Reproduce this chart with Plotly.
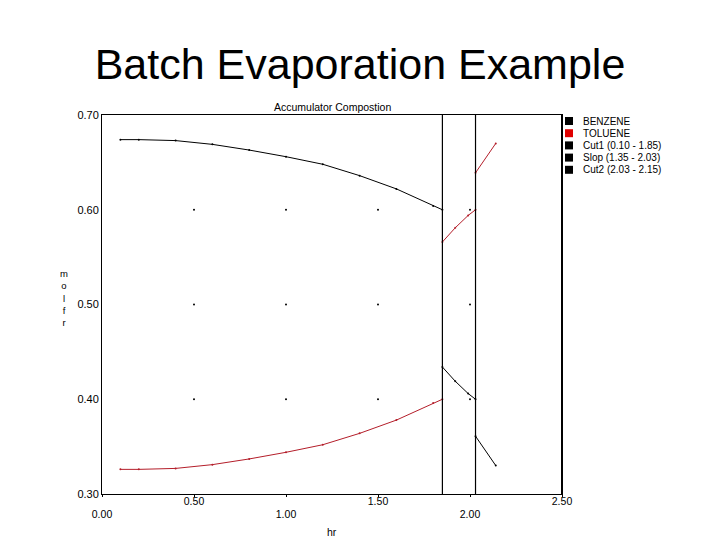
import plotly.graph_objects as go

# Accumulator composition (mole fraction) per cut
time_cut1 = [0.10, 0.20, 0.40, 0.60, 0.80, 1.00, 1.20, 1.40, 1.60, 1.80, 1.85]
benzene_cut1 = [0.674, 0.674, 0.673, 0.669, 0.663, 0.656, 0.648, 0.636, 0.622, 0.604, 0.600]
toluene_cut1 = [0.326, 0.326, 0.327, 0.331, 0.337, 0.344, 0.352, 0.364, 0.378, 0.396, 0.400]

time_slop = [1.85, 1.92, 1.99, 2.03]
benzene_slop = [0.434, 0.419, 0.406, 0.400]
toluene_slop = [0.566, 0.581, 0.594, 0.600]

time_cut2 = [2.03, 2.14]
benzene_cut2 = [0.361, 0.330]
toluene_cut2 = [0.639, 0.670]

cut_bounds = [1.85, 2.03]

grid_x = [0.5, 1.0, 1.5, 2.0]
grid_y = [0.4, 0.5, 0.6]

x_ticks = [0.0, 0.5, 1.0, 1.5, 2.0, 2.5]
y_ticks = [0.30, 0.40, 0.50, 0.60, 0.70]

legend_labels = ["BENZENE", "TOLUENE", "Cut1 (0.10 - 1.85)", "Slop (1.35 - 2.03)", "Cut2 (2.03 - 2.15)"]
legend_colors = ["#000000", "#e00000", "#000000", "#000000", "#000000"]

FONT = "Liberation Sans, Arial, sans-serif"
RED_LINE = "#b41e2a"

# plot box in pixels (720x540 page)
L, R, T, B = 102, 562, 115, 494
PW, PH = R - L, B - T


def px_x(p):
    return (p - L) / PW


def px_y(p):
    return (B - p) / PH


def join(segments):
    xs, ys = [], []
    for sx, sy in segments:
        xs.extend(sx + [None])
        ys.extend(sy + [None])
    return xs, ys


fig = go.Figure()

# faint grid dots (also anchors the second x axis used for the lower tick row)
gx = [x for x in grid_x for _ in grid_y]
gy = [y for _ in grid_x for y in grid_y]
fig.add_trace(go.Scatter(x=gx, y=gy, mode='markers', xaxis='x2',
                         marker=dict(size=2, color='#000000'),
                         hoverinfo='skip', showlegend=False))

bx, by = join([(time_cut1, benzene_cut1), (time_slop, benzene_slop), (time_cut2, benzene_cut2)])
tx, ty = join([(time_cut1, toluene_cut1), (time_slop, toluene_slop), (time_cut2, toluene_cut2)])

fig.add_trace(go.Scatter(x=bx, y=by, mode='lines+markers', name='BENZENE',
                         line=dict(color='#000000', width=1),
                         marker=dict(size=2, color='#000000'),
                         connectgaps=False, showlegend=False))
fig.add_trace(go.Scatter(x=tx, y=ty, mode='lines+markers', name='TOLUENE',
                         line=dict(color=RED_LINE, width=1),
                         marker=dict(size=2, color=RED_LINE),
                         connectgaps=False, showlegend=False))

# cut boundaries
for c in cut_bounds:
    fig.add_shape(type='line', x0=c, x1=c, xref='x', y0=0, y1=1, yref='paper',
                  line=dict(color='#000000', width=1.2))

# right edge of the frame is drawn heavier
fig.add_shape(type='line', x0=1, x1=1, xref='paper', y0=0, y1=1, yref='paper',
              line=dict(color='#000000', width=2))

# hand made legend
for i, (lab, col) in enumerate(zip(legend_labels, legend_colors)):
    cy = 121 + 12.2 * i
    fig.add_shape(type='rect', xref='paper', yref='paper',
                  x0=px_x(565), x1=px_x(573), y0=px_y(cy + 4), y1=px_y(cy - 4),
                  fillcolor=col, line=dict(width=0))
    fig.add_annotation(text=lab, xref='paper', yref='paper', x=px_x(581), y=px_y(cy),
                       xanchor='left', yanchor='middle', showarrow=False,
                       font=dict(size=10, color='#000000', family=FONT))

# chart subtitle
fig.add_annotation(text='Accumulator Compostion', xref='paper', yref='paper',
                   x=0.5, y=1, xanchor='center', yanchor='bottom', showarrow=False,
                   font=dict(size=10.5, color='#000000', family=FONT))

# y axis title, one letter per line
fig.add_annotation(text='m<br>o<br>l<br>f<br>r', xref='paper', yref='paper',
                   x=px_x(64), y=px_y(298), xanchor='center', yanchor='middle',
                   showarrow=False, font=dict(size=9.5, color='#000000', family=FONT))

# x axis title
fig.add_annotation(text='hr', xref='paper', yref='paper',
                   x=0.5, y=px_y(532), xanchor='center', yanchor='middle',
                   showarrow=False, font=dict(size=10.5, color='#000000', family=FONT))

# staggered x tick labels: upper row on x, lower row on x2
upper = [f"{v:.2f}" if i % 2 else "" for i, v in enumerate(x_ticks)]
lower_vals = [v for i, v in enumerate(x_ticks) if i % 2 == 0]
tickfont = dict(size=10.5, color='#000000', family=FONT)

fig.update_layout(
    width=720, height=540, autosize=False,
    margin=dict(l=L, r=720 - R, t=T, b=540 - B, pad=0),
    paper_bgcolor='white', plot_bgcolor='white',
    showlegend=False,
    title=dict(text='Batch Evaporation Example', x=0.5, xanchor='center',
               y=1 - 64 / 540, yanchor='middle',
               font=dict(size=43, color='#000000', family=FONT)),
    xaxis=dict(range=[0, 2.5], tickvals=x_ticks, ticktext=upper,
               showgrid=False, zeroline=False, showline=True, mirror=True,
               linecolor='#000000', linewidth=1, ticks='outside', ticklen=2,
               tickcolor='#000000', tickfont=tickfont, ticklabelstandoff=-5),
    xaxis2=dict(range=[0, 2.5], overlaying='x', side='bottom', anchor='y',
                tickvals=lower_vals, ticktext=[f"{v:.2f}" for v in lower_vals],
                ticklabelstandoff=12, showgrid=False, zeroline=False,
                showline=False, ticks='', tickfont=tickfont),
    yaxis=dict(range=[0.3, 0.7], tickvals=y_ticks,
               ticktext=[f"{v:.2f}" for v in y_ticks],
               showgrid=False, zeroline=False, showline=True, mirror=True,
               linecolor='#000000', linewidth=1, tickfont=dict(size=11, color='#000000', family=FONT)),
)

# drop the default body margin so the figure sits at the page corner
fig.write_html("out.html", config={'displayModeBar': False},
               post_script="document.body.style.margin='0px';")
